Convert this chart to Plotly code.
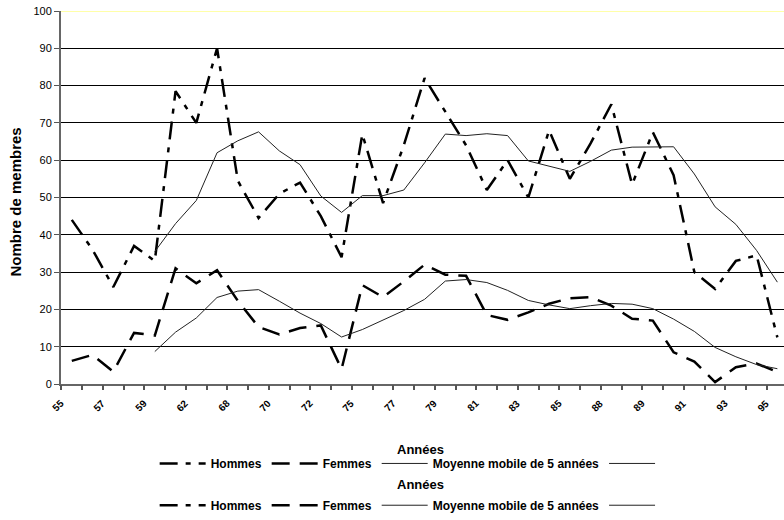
import plotly.graph_objects as go

years = ["55", "56", "57", "58", "59", "61", "62", "65", "68", "69",
         "70", "71", "72", "74", "75", "76", "77", "78", "79", "80",
         "81", "82", "83", "84", "85", "86", "88", "88", "89", "90",
         "91", "92", "93", "94", "95"]
hommes = [44, 36, 26, 37, 33, 78.5, 70, 90, 54.5, 44.5,
          51, 54, 45, 34, 67, 48.5, 64, 82, 73, 64,
          52, 60, 50, 68, 55, 64.5, 75, 53.5, 67.5, 56,
          30, 25.5, 33, 34.5, 12.5]
femmes = [6.2, 7.8, 3.3, 13.7, 13, 31, 27, 30.5, 22.3, 15.3,
          13.3, 15, 15.7, 4, 26.5, 23.3, 27.5, 32, 29.3, 29,
          18.5, 17.2, 19.2, 21.5, 23, 23.3, 21, 17.5, 17, 8.5,
          6, 0.5, 4.5, 5.5, 3.2]
moy_hommes = [None, None, None, None, 35.5, 43, 49.2, 62, 65.2, 67.6,
              62.5, 58.8, 50.4, 46, 50.5, 50.5, 52, 59.3, 67, 66.6,
              67.1, 66.6, 59.8, 58.5, 57, 59.7, 62.7, 63.5, 63.5, 63.6,
              56.3, 47.5, 42.8, 35.8, 27.3]
moy_femmes = [None, None, None, None, 8.7, 13.9, 17.7, 23.2, 24.9, 25.3,
              22.2, 19, 16.2, 12.6, 14.6, 17.1, 19.7, 22.7, 27.6, 28,
              27.2, 25.1, 22.4, 21.2, 20.2, 21, 21.6, 21.4, 20.2, 17.4,
              14.1, 9.8, 7.3, 5.2, 4.1]
y_ticks = [0, 10, 20, 30, 40, 50, 60, 70, 80, 90, 100]
legend_names = ["Hommes", "Femmes", "Moyenne mobile de 5 années", " "]

FONT = "Liberation Sans, Arial, sans-serif"
x = list(range(len(years)))
boundaries = [i - 0.5 for i in range(len(years) + 1)]

styles = [
    dict(width=2.5, dash="18px,8px,5px,8px", color="black"),
    dict(width=2.5, dash="18px,10px", color="black"),
    dict(width=1, dash="solid", color="#222"),
    dict(width=1, dash="solid", color="#222"),
]
series = [hommes, femmes, moy_hommes, moy_femmes]
xaxes = ["x", "x", "x", "x2"]

fig = go.Figure()
for name, ys, st, xa in zip(legend_names, series, styles, xaxes):
    fig.add_trace(go.Scatter(x=x, y=ys, mode="lines", name=name, line=st,
                             connectgaps=False, legend="legend", xaxis=xa))
# second (duplicated) legend row, as in the reference
for name, st in zip(legend_names, styles):
    fig.add_trace(go.Scatter(x=[None], y=[None], mode="lines", name=name,
                             line=st, legend="legend2"))

legend_common = dict(orientation="h", xanchor="center", yanchor="middle",
                     font=dict(family=FONT, size=12, color="black", weight="bold"),
                     bgcolor="rgba(0,0,0,0)", itemwidth=46,
                     xref="paper", yref="paper")

# rotated category labels (every second category), placed on the x scale
tick_labels = [
    dict(text=years[i], x=x[i], xref="x", y=0, yref="paper",
         xanchor="center", yanchor="middle", xshift=-14, yshift=-21,
         textangle=-45, showarrow=False,
         font=dict(family=FONT, size=10, color="black", weight="bold"))
    for i in range(0, len(years), 2)
]

XRANGE = [-0.52, 34.32]
fig.update_layout(
    width=784, height=520,
    margin=dict(l=61, r=0, t=11, b=132),
    paper_bgcolor="white", plot_bgcolor="white",
    font=dict(family=FONT, color="black"),
    showlegend=True,
    legend=dict(x=0.485, y=-0.213, **legend_common),
    legend2=dict(x=0.485, y=-0.325, **legend_common),
    xaxis=dict(
        range=XRANGE, showgrid=False, zeroline=False,
        showticklabels=False, ticks="",
        showline=True, linecolor="#666", linewidth=2,
    ),
    xaxis2=dict(
        range=XRANGE, overlaying="x", anchor="y", side="bottom",
        tickmode="array", tickvals=boundaries, showticklabels=False,
        ticks="outside", ticklen=5, tickcolor="#555", tickwidth=1.5,
        showgrid=False, zeroline=False, showline=False,
    ),
    yaxis=dict(
        range=[0, 100], tickmode="array", tickvals=y_ticks,
        ticks="outside", ticklen=5, tickcolor="#555",
        tickfont=dict(family=FONT, size=11, color="black"),
        showgrid=True, gridcolor="black", gridwidth=1, zeroline=False,
        showline=True, linecolor="#666", linewidth=2,
    ),
    shapes=[dict(type="line", xref="paper", yref="y", x0=0, x1=1, y0=100, y1=100,
                 line=dict(color="#FFFFA8", width=2), layer="above")],
    annotations=tick_labels + [
        dict(text="Nombre de membres", xref="paper", yref="paper", x=0, y=0.5,
             xanchor="center", yanchor="middle", xshift=-46, yshift=-5, textangle=-90,
             showarrow=False, font=dict(family=FONT, size=15, color="black", weight="bold")),
        dict(text="Années", xref="paper", yref="paper", x=0.4977, y=-0.1767,
             xanchor="center", yanchor="middle", showarrow=False,
             font=dict(family=FONT, size=13, color="black", weight="bold")),
        dict(text="Années", xref="paper", yref="paper", x=0.4977, y=-0.2688,
             xanchor="center", yanchor="middle", showarrow=False,
             font=dict(family=FONT, size=13, color="black", weight="bold")),
    ],
)

fig.write_html("out.html", config={"displayModeBar": False},
               post_script="document.body.style.margin='0px';document.body.style.padding='0px';")
